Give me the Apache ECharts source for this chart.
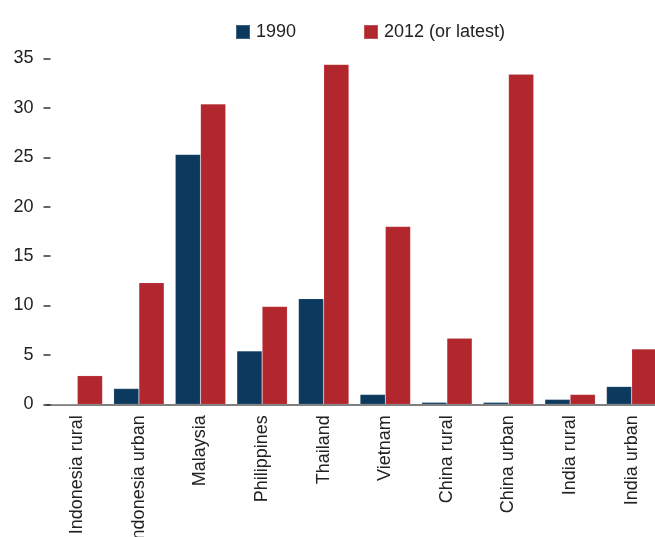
<!DOCTYPE html>
<html>
<head>
<meta charset="utf-8">
<script src="https://cdn.jsdelivr.net/npm/echarts@6/dist/echarts.min.js"></script>
<style>
  html, body { margin: 0; padding: 0; background: #fff; }
  #chart { width: 655px; height: 537px; }
</style>
</head>
<body>
<div id="chart"></div>
<script>
const categories = ['Indonesia rural', 'Indonesia urban', 'Malaysia', 'Philippines', 'Thailand', 'Vietnam', 'China rural', 'China urban', 'India rural', 'India urban'];
const values1990 = [0, 1.6, 25.3, 5.4, 10.7, 1.0, 0.2, 0.2, 0.5, 1.8];
const values2012 = [2.9, 12.3, 30.4, 9.9, 34.4, 18.0, 6.7, 33.4, 1.0, 5.6];
const yTicks = { min: 0, max: 35, interval: 5 };

const FONT = '"Liberation Sans", Arial, sans-serif';
const FS = 18;
const NAVY = '#0c3a5e';
const RED = '#b2272d';

const chart = echarts.init(document.getElementById('chart'), null, { renderer: 'canvas' });
chart.setOption({
  backgroundColor: '#ffffff',
  animation: false,
  textStyle: { fontFamily: FONT },
  legend: [
    {
      data: ['1990'], left: 230, top: 18,
      itemWidth: 14, itemHeight: 14, icon: 'rect',
      textStyle: { fontFamily: FONT, fontSize: FS, color: '#222', padding: [0, 0, 0, 1] }
    },
    {
      data: ['2012 (or latest)'], left: 358, top: 18,
      itemWidth: 14, itemHeight: 14, icon: 'rect',
      textStyle: { fontFamily: FONT, fontSize: FS, color: '#222', padding: [0, 0, 0, 1] }
    }
  ],
  grid: { left: 46.5, top: 58.5, width: 616, height: 345.8, containLabel: false, outerBoundsMode: 'none' },
  xAxis: {
    type: 'category',
    data: categories,
    axisLine: { show: true, lineStyle: { color: '#555', width: 1.5 } },
    axisTick: { show: false },
    axisLabel: { rotate: 90, margin: 11, fontFamily: FONT, fontSize: FS, color: '#222' }
  },
  yAxis: {
    type: 'value',
    min: yTicks.min, max: yTicks.max, interval: yTicks.interval,
    offset: -4,
    axisLine: { show: false },
    axisTick: { show: true, length: 7, lineStyle: { color: '#333', width: 1.5 } },
    splitLine: { show: false },
    axisLabel: { margin: 17, fontFamily: FONT, fontSize: FS, color: '#222' }
  },
  series: [
    {
      name: '1990', type: 'bar', data: values1990,
      barGap: '0%', barCategoryGap: '18%',
      itemStyle: { color: NAVY, borderColor: 'rgba(255,255,255,0.2)', borderWidth: 0.6 }
    },
    {
      name: '2012 (or latest)', type: 'bar', data: values2012,
      barGap: '0%', barCategoryGap: '18%',
      itemStyle: { color: RED, borderColor: 'rgba(255,255,255,0.2)', borderWidth: 0.6 }
    }
  ]
});
</script>
</body>
</html>
